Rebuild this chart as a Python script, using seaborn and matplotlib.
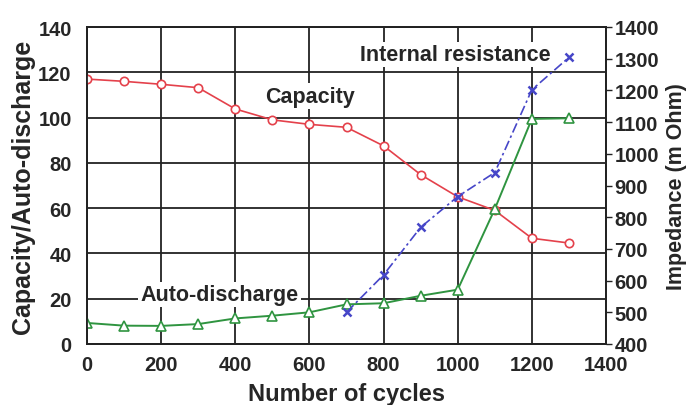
import numpy as np
import pandas as pd
import seaborn as sns
import matplotlib.pyplot as plt

# values
cycles = [0, 100, 200, 300, 400, 500, 600, 700, 800, 900, 1000, 1100, 1200, 1300]
capacity = [117, 116, 114.7, 113.2, 103.8, 99, 97, 95.7, 87.5, 74.8, 65, 59, 46.7, 44.6]
auto_discharge = [9.3, 8.1, 8, 8.8, 11.3, 12.5, 14, 17.5, 18, 21.3, 24, 59.6, 99.4, 99.7]
res_cycles = [700, 800, 900, 1000, 1100, 1200, 1300]
resistance = [500, 618, 768, 865, 941, 1202, 1304]

left_ticks = [0, 20, 40, 60, 80, 100, 120, 140]
right_ticks = [400, 500, 600, 700, 800, 900, 1000, 1100, 1200, 1300, 1400]
x_ticks = [0, 200, 400, 600, 800, 1000, 1200, 1400]

df = pd.DataFrame({"cycles": cycles, "capacity": capacity, "auto": auto_discharge})
df_res = pd.DataFrame({"cycles": res_cycles, "resistance": resistance})

sns.set_style("white")
plt.rcParams["font.family"] = ["Liberation Sans", "DejaVu Sans"]

fig = plt.figure(figsize=(6.89, 4.06), dpi=100)
ax = fig.add_axes([87 / 689, 61 / 406, 519 / 689, 317 / 406])
ax2 = ax.twinx()

red, green, blue = "#e4414b", "#2f9440", "#4646c8"

sns.lineplot(data=df, x="cycles", y="capacity", ax=ax, color=red, linewidth=1.2,
             marker="o", markersize=6, markerfacecolor="white", markeredgecolor=red,
             markeredgewidth=1.2, zorder=4)
sns.lineplot(data=df, x="cycles", y="auto", ax=ax, color=green, linewidth=1.4,
             marker="^", markersize=7, markerfacecolor="white", markeredgecolor=green,
             markeredgewidth=1.2, zorder=4)
sns.lineplot(data=df_res, x="cycles", y="resistance", ax=ax2, color=blue, linewidth=1.2,
             linestyle=(0, (6, 2, 1.5, 2)), marker="x", markersize=6, markeredgewidth=1.8,
             markeredgecolor=blue, zorder=4)

ax.set_xlim(0, 1400)
ax.set_ylim(0, 140)
ax2.set_ylim(400, 1400)
ax.set_xticks(x_ticks)
ax.set_yticks(left_ticks)
ax2.set_yticks(right_ticks)

ax.grid(True, color="#222222", linewidth=1.3)
ax.set_axisbelow(True)
for a in (ax, ax2):
    for s in a.spines.values():
        s.set_color("#222222")
        s.set_linewidth(1.3)

ax.tick_params(axis="y", length=0, pad=11)
ax.tick_params(axis="x", length=0, pad=8)
ax2.tick_params(axis="y", length=4, width=1, pad=2, direction="out", color="#222222")
for lab in ax.get_xticklabels() + ax.get_yticklabels() + ax2.get_yticklabels():
    lab.set_fontsize(14.5)
    lab.set_fontweight("bold")

ax.set_xlabel("Number of cycles", fontsize=17, fontweight="bold", labelpad=6)
ax.set_ylabel("Capacity/Auto-discharge", fontsize=18, fontweight="bold", labelpad=2)
ax2.set_ylabel("Impedance (m Ohm)", fontsize=15.5, fontweight="bold", labelpad=5)

box = dict(boxstyle="square,pad=0.1", fc="white", ec="none")
ax.text(601, 109.5, "Capacity", ha="center", va="center", fontsize=15.5,
        fontweight="bold", bbox=box, zorder=3)
ax.text(357, 22, "Auto-discharge", ha="center", va="center", fontsize=15.5,
        fontweight="bold", bbox=box, zorder=3)
ax.text(993, 128, "Internal resistance", ha="center", va="center", fontsize=15.5,
        fontweight="bold", bbox=box, zorder=3)

fig.savefig("out.png", dpi=100)
